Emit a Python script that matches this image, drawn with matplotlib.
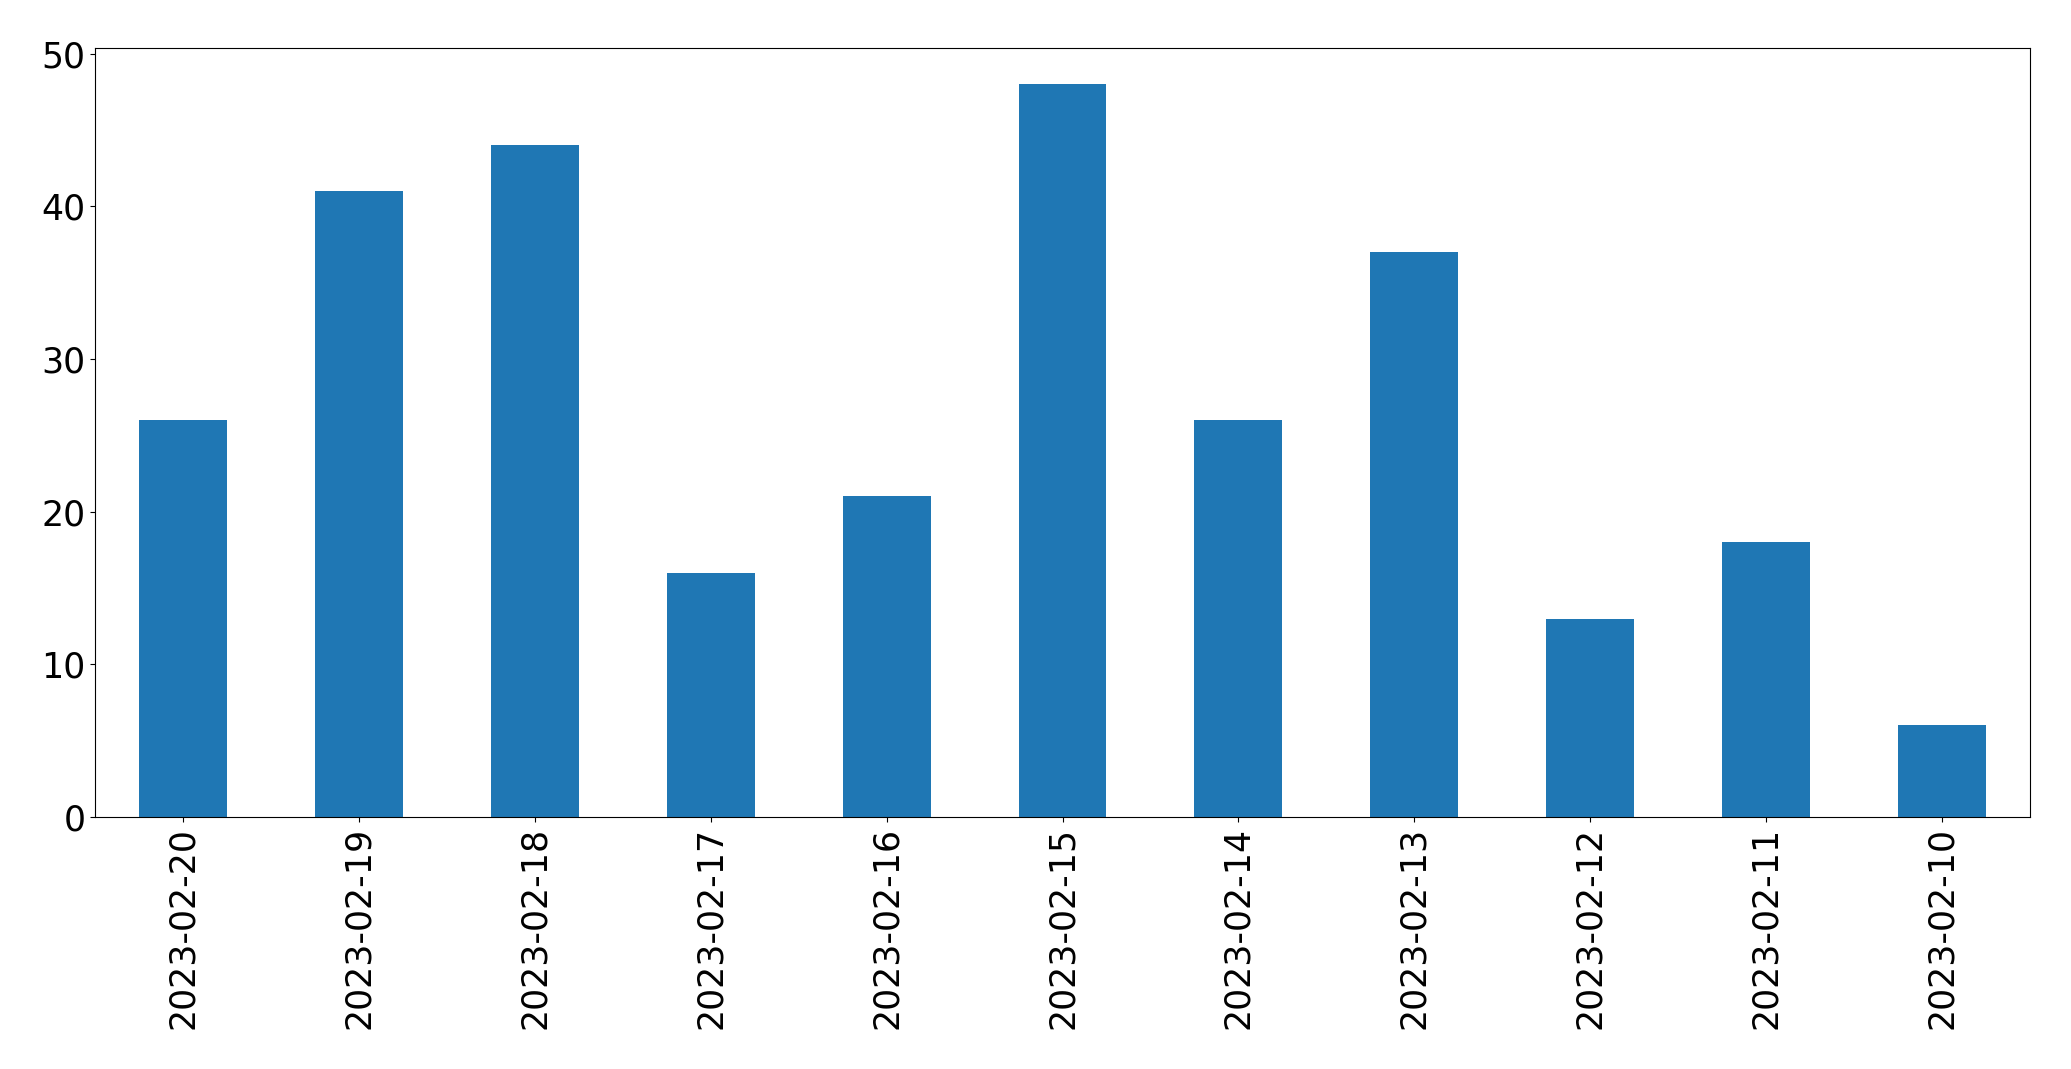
import matplotlib
matplotlib.use('Agg')
import matplotlib.pyplot as plt
import numpy as np

# Cantidad por dia (orden descendente de fechas, como en el original)
fechas = ['2023-02-20', '2023-02-19', '2023-02-18', '2023-02-17', '2023-02-16',
          '2023-02-15', '2023-02-14', '2023-02-13', '2023-02-12', '2023-02-11',
          '2023-02-10']
cuentas = [26, 41, 44, 16, 21, 48, 26, 37, 13, 18, 6]

fig = plt.figure(figsize=(20.71, 10.69), dpi=100)
ax = fig.add_axes([95 / 2071, 1 - 817 / 1069, (2030 - 95) / 2071, (817 - 47.5) / 1069])

x = np.arange(len(fechas))
ax.bar(x, cuentas, width=0.5, color='#1f77b4')
ax.set_xlim(-0.5, len(fechas) - 0.5)
ax.set_ylim(0, 50.4)
ax.set_xticks(x)
ax.set_xticklabels(fechas, rotation=90)
ax.set_yticks([0, 10, 20, 30, 40, 50])
ax.tick_params(labelsize=25)

fig.savefig('out.png', dpi=100)
